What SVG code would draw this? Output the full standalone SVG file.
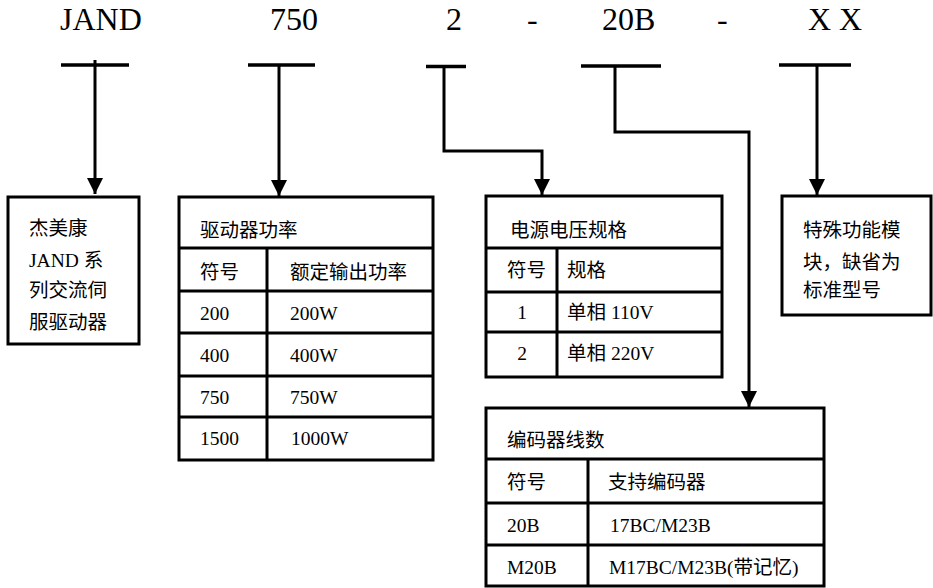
<svg xmlns="http://www.w3.org/2000/svg" width="933" height="588" viewBox="0 0 933 588">
<style>
.top{font-family:"Liberation Serif","Noto Sans CJK SC",serif;font-size:32px;fill:#000}
.t{font-family:"Liberation Serif","Noto Sans CJK SC",serif;font-size:19.5px;fill:#000}
.box{fill:#fff;stroke:#000;stroke-width:3}
.ln{stroke:#000;stroke-width:3;fill:none}
.bar{stroke:#000;stroke-width:3.5}
.conn{stroke:#000;stroke-width:3;fill:none;marker-end:url(#ah)}
</style>
<defs>
<marker id="ah" markerUnits="userSpaceOnUse" markerWidth="16" markerHeight="16" viewBox="0 0 16 16" refX="16" refY="8" orient="auto">
<path d="M0,0 L16,8 L0,16 Z" fill="#000"/>
</marker>
</defs>
<rect width="933" height="588" fill="#fff"/>
<g id="code">
<text class="top" x="60" y="30">JAND</text>
<text class="top" x="270" y="30">750</text>
<text class="top" x="446" y="30">2</text>
<text class="top" x="527" y="30">-</text>
<text class="top" x="602" y="30">20B</text>
<text class="top" x="717" y="30">-</text>
<text class="top" x="808" y="30">X X</text>
</g>
<g id="bars">
<line class="bar" x1="61" y1="65" x2="129" y2="65"/>
<line class="bar" x1="248" y1="65" x2="315" y2="65"/>
<line class="bar" x1="426" y1="66.5" x2="466" y2="66.5" stroke-width="2.5"/>
<line class="bar" x1="581" y1="66" x2="661" y2="66"/>
<line class="bar" x1="779" y1="65" x2="851" y2="65"/>
</g>
<g id="connectors">
<path class="conn" d="M95,60 V194"/>
<path class="conn" d="M279,65 V196"/>
<path class="conn" d="M444,67 V151 H542 V195"/>
<path class="conn" d="M615,66 V132 H749 V407"/>
<path class="conn" d="M817,65 V195"/>
</g>
<g id="node-series">
<rect class="box" x="8" y="197" width="131" height="147"/>
<text class="t" x="29" y="235">杰美康</text>
<text class="t" x="29" y="267">JAND 系</text>
<text class="t" x="29" y="297">列交流伺</text>
<text class="t" x="29" y="329">服驱动器</text>
</g>
<g id="node-power">
<rect class="box" x="179" y="197" width="254" height="263"/>
<path class="ln" d="M179,248 H433 M179,291 H433 M179,333 H433 M179,376 H433 M179,417 H433 M267,248 V460"/>
<text class="t" x="200" y="237">驱动器功率</text>
<text class="t" x="200" y="279">符号</text>
<text class="t" x="290" y="279">额定输出功率</text>
<text class="t" x="200" y="320">200</text>
<text class="t" x="290" y="320">200W</text>
<text class="t" x="200" y="362">400</text>
<text class="t" x="290" y="362">400W</text>
<text class="t" x="200" y="404">750</text>
<text class="t" x="290" y="404">750W</text>
<text class="t" x="200" y="445">1500</text>
<text class="t" x="291" y="445">1000W</text>
</g>
<g id="node-voltage">
<rect class="box" x="486" y="196" width="236" height="181"/>
<path class="ln" d="M486,248 H722 M486,292 H722 M486,332 H722 M557,248 V377"/>
<text class="t" x="510" y="237">电源电压规格</text>
<text class="t" x="507" y="277">符号</text>
<text class="t" x="567" y="277">规格</text>
<text class="t" x="522" y="319" text-anchor="middle">1</text>
<text class="t" x="567" y="319">单相 110V</text>
<text class="t" x="522" y="360" text-anchor="middle">2</text>
<text class="t" x="567" y="360">单相 220V</text>
</g>
<g id="node-encoder">
<rect class="box" x="486" y="408" width="338" height="178"/>
<path class="ln" d="M486,459 H824 M486,503 H824 M486,545 H824 M588,459 V586"/>
<text class="t" x="507" y="447">编码器线数</text>
<text class="t" x="507" y="489">符号</text>
<text class="t" x="608" y="489">支持编码器</text>
<text class="t" x="507" y="532">20B</text>
<text class="t" x="610" y="532">17BC/M23B</text>
<text class="t" x="507" y="574">M20B</text>
<text class="t" x="609" y="574">M17BC/M23B(带记忆)</text>
</g>
<g id="node-special">
<rect class="box" x="782" y="196" width="149" height="119"/>
<text class="t" x="803" y="237">特殊功能模</text>
<text class="t" x="803" y="269">块，缺省为</text>
<text class="t" x="803" y="297">标准型号</text>
</g>
</svg>
